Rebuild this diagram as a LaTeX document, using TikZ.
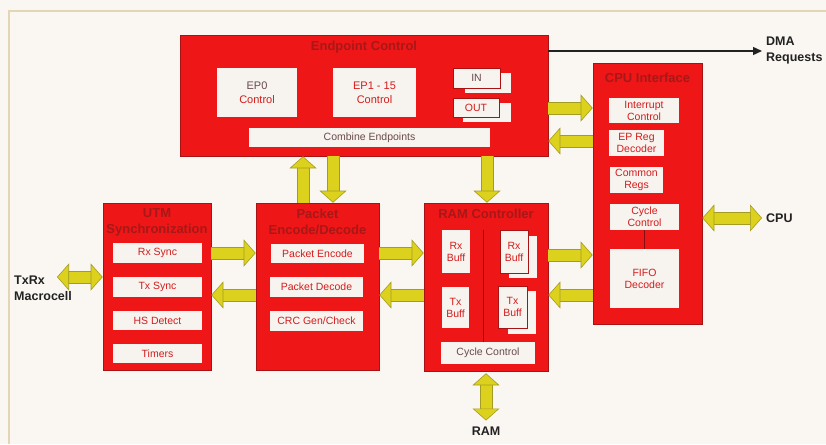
\documentclass[tikz,border=0pt]{standalone}
\usepackage{fontspec}
\setmainfont{Liberation Sans}
\usetikzlibrary{arrows.meta}
\definecolor{bgc}{HTML}{FAF6F2}
\definecolor{framec}{HTML}{E2D6B4}
\definecolor{redc}{HTML}{EE1616}
\definecolor{rededge}{HTML}{A81212}
\definecolor{titlec}{HTML}{A81818}
\definecolor{boxc}{HTML}{F7F3EF}
\definecolor{boxtext}{HTML}{D41C1C}
\definecolor{graytext}{HTML}{6A4A4A}
\definecolor{yelc}{HTML}{DCD21E}
\definecolor{olivec}{HTML}{A49C22}
\definecolor{labc}{HTML}{222222}
\tikzset{
  x=1pt, y=-1pt,
  redbox/.style={fill=redc, draw=rededge, line width=0.6pt, inner sep=0pt},
  wbox/.style={fill=boxc, draw=none, inner sep=0pt, align=center, text=boxtext,
    font=\fontsize{10.5}{12}\selectfont},
  fbox/.style={wbox, draw=rededge, line width=0.4pt},
  bbox/.style={fill=boxc, draw=none, inner sep=0pt},
  titletext/.style={text=titlec, font=\bfseries\fontsize{13}{15.5}\selectfont, align=center, inner sep=0pt},
  lab/.style={text=labc, font=\bfseries\fontsize{12.5}{16}\selectfont, align=left, inner sep=0pt},
  fat/.style={draw=yelc, line width=11pt,
    preaction={draw=olivec, line width=13pt, arrows=-, shorten >=11pt},
    arrows={-{Triangle[width=27pt,length=12pt,line width=0.6pt,fill=yelc,color=olivec]}}},
  fatb/.style={draw=yelc, line width=11pt,
    preaction={draw=olivec, line width=13pt, arrows=-, shorten >=11pt, shorten <=11pt},
    arrows={{Triangle[width=27pt,length=12pt,line width=0.6pt,fill=yelc,color=olivec]}-{Triangle[width=27pt,length=12pt,line width=0.6pt,fill=yelc,color=olivec]}}},
  thinarr/.style={draw=labc, line width=1.3pt, -{Triangle[width=8pt,length=9pt]}},
  divider/.style={draw=rededge!80!black, line width=0.7pt}
}
\begin{document}
\begin{tikzpicture}
\useasboundingbox (0,0) rectangle (826,444);
\fill[bgc] (0,0) rectangle (826,444);
\draw[framec, line width=2pt] (9,444) -- (9,11) -- (826,11);

% Endpoint Control
\node[redbox, minimum width=368pt, minimum height=121pt] (ep) at (364,95.5) {};
\node[titletext] (eptitle) at (364,47) {Endpoint Control};
\node[wbox, minimum width=80pt, minimum height=49pt, font=\fontsize{11}{14}\selectfont] (ep0) at (257,92.5) {\textcolor{graytext}{EP0}\\Control};
\node[wbox, minimum width=83pt, minimum height=49pt, font=\fontsize{11}{14}\selectfont] (ep1) at (374.5,92.5) {EP1 - 15\\Control};
\node[bbox, minimum width=46pt, minimum height=20pt] (inb) at (488,83) {};
\node[fbox, minimum width=47pt, minimum height=20pt, text=graytext] (in) at (476.5,78) {IN};
\node[bbox, minimum width=48pt, minimum height=19pt] (outb) at (487,112.5) {};
\node[fbox, minimum width=46pt, minimum height=19pt] (out) at (476,107.5) {OUT};
\node[wbox, minimum width=241pt, minimum height=19pt, text=graytext] (comb) at (369.5,137.5) {Combine Endpoints};

% CPU Interface
\node[redbox, minimum width=109pt, minimum height=261pt] (cpu) at (647.5,193.5) {};
\node[titletext] (cputitle) at (647.5,78) {CPU Interface};
\node[wbox, minimum width=70pt, minimum height=25pt] (intr) at (644,110.5) {Interrupt\\Control};
\node[wbox, minimum width=55pt, minimum height=26pt] (epreg) at (636.5,143) {EP Reg\\Decoder};
\node[wbox, minimum width=53pt, minimum height=26pt] (common) at (636.5,180) {Common\\Regs};
\node[wbox, minimum width=69pt, minimum height=26pt] (cyc) at (644.5,217) {Cycle\\Control};
\node[wbox, minimum width=69pt, minimum height=59pt] (fifo) at (644.5,278.5) {FIFO\\Decoder};
\draw[divider] (cyc.south) -- (fifo.north);

% UTM Synchronization
\node[redbox, minimum width=108pt, minimum height=167pt] (utm) at (157,286.5) {};
\node[titletext] (utmtitle) at (157,222.5) {UTM\\Synchronization};
\node[wbox, minimum width=89pt, minimum height=20pt] (rxs) at (157.5,253) {Rx Sync};
\node[wbox, minimum width=89pt, minimum height=20pt] (txs) at (157.5,287) {Tx Sync};
\node[wbox, minimum width=89pt, minimum height=19pt] (hs) at (157.5,320.5) {HS Detect};
\node[wbox, minimum width=89pt, minimum height=19pt] (tim) at (157.5,353.5) {Timers};

% Packet Encode/Decode
\node[redbox, minimum width=123pt, minimum height=167pt] (pk) at (317.5,286.5) {};
\node[titletext] (pktitle) at (317.5,222) {Packet\\Encode/Decode};
\node[wbox, minimum width=93pt, minimum height=19pt] (pe) at (317.5,253.5) {Packet Encode};
\node[wbox, minimum width=93pt, minimum height=20pt] (pd) at (316.5,287) {Packet Decode};
\node[wbox, minimum width=93pt, minimum height=20pt] (crc) at (316.5,321) {CRC Gen/Check};

% RAM Controller
\node[redbox, minimum width=124pt, minimum height=168pt] (ram) at (486,287) {};
\node[titletext] (ramtitle) at (486,214) {RAM Controller};
\node[wbox, minimum width=28pt, minimum height=43pt] (rxl) at (456,251.5) {Rx\\Buff};
\node[bbox, minimum width=28pt, minimum height=42pt] (rxrb) at (523,257) {};
\node[fbox, minimum width=28pt, minimum height=43pt] (rxr) at (514,251.5) {Rx\\Buff};
\node[wbox, minimum width=27pt, minimum height=41pt] (txl) at (455.5,307.5) {Tx\\Buff};
\node[bbox, minimum width=28pt, minimum height=43pt] (txrb) at (522,312.5) {};
\node[fbox, minimum width=29pt, minimum height=42pt] (txr) at (512.5,307) {Tx\\Buff};
\node[wbox, minimum width=94pt, minimum height=22pt, text=graytext] (rcyc) at (488,353) {Cycle Control};
\draw[divider] ([xshift=13pt]rxl.north east) -- ([xshift=13pt]rxl.east |- rcyc.north);

% External labels
\node[lab, anchor=west] (dma) at (766,50) {DMA\\Requests};
\node[lab, anchor=west] (cpulab) at (766,218) {CPU};
\node[lab, anchor=west] (txrx) at (14,288) {TxRx\\Macrocell};
\node[lab] (ramlab) at (486,431) {RAM};
\coordinate (txa) at (57,277);

% Connectors
\draw[thinarr] (ep.east |- 0,51) -- ([xshift=-4pt]dma.west |- 0,51);
\draw[fat] (utm.east |- 0,253) -- (pk.west |- 0,253);
\draw[fat] (pk.west |- 0,295) -- (utm.east |- 0,295);
\draw[fat] (pk.east |- 0,253) -- (ram.west |- 0,253);
\draw[fat] (ram.west |- 0,295) -- (pk.east |- 0,295);
\draw[fat] (ram.east |- 0,255) -- (cpu.west |- 0,255);
\draw[fat] (cpu.west |- 0,295) -- (ram.east |- 0,295);
\draw[fat] (ep.east |- 0,108) -- (cpu.west |- 0,108);
\draw[fat] (cpu.west |- 0,141) -- (ep.east |- 0,141);
\draw[fat] (pk.north -| 303,0) -- (ep.south -| 303,0);
\draw[fat] (ep.south -| 333,0) -- (pk.north -| 333,0);
\draw[fat] (ep.south -| 487,0) -- (ram.north -| 487,0);
\draw[fatb] (cpu.east |- cpulab.west) -- ([xshift=-4pt]cpulab.west);
\draw[fatb] (txa) -- (utm.west |- txa);
\draw[fatb] ([yshift=-2pt]ram.south) -- ([yshift=6pt]ramlab.north);
\end{tikzpicture}
\end{document}
